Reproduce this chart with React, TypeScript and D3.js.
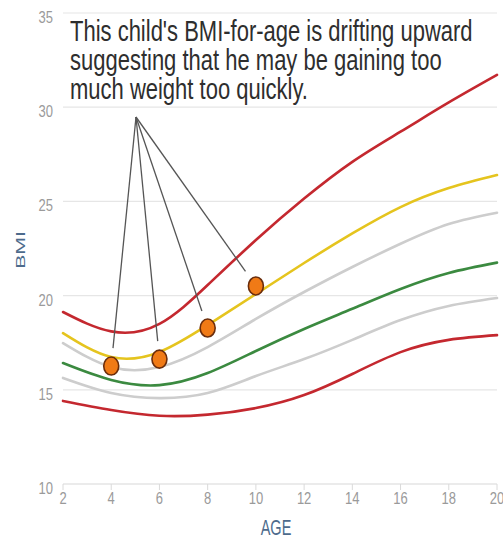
import * as d3 from "d3";

// ages where the percentile curves were read
const ages = [2, 4, 6, 8, 10, 12, 14, 16, 18, 20];

// BMI percentile curves (top to bottom)
const p95 = [19.13, 18.1, 18.5, 20.56, 22.95, 25.15, 27.1, 28.7, 30.25, 31.71];
const p85 = [18.01, 16.74, 17.01, 18.44, 20.08, 21.73, 23.3, 24.7, 25.71, 26.4];
const p75 = [17.48, 16.21, 16.21, 17.27, 18.76, 20.19, 21.52, 22.75, 23.8, 24.4];
const p50 = [16.42, 15.52, 15.25, 15.89, 17.06, 18.23, 19.3, 20.35, 21.2, 21.75];
const p25 = [15.63, 14.83, 14.56, 14.83, 15.73, 16.63, 17.65, 18.7, 19.45, 19.87];
const p5 = [14.41, 13.93, 13.62, 13.68, 14.03, 14.72, 15.84, 17.0, 17.65, 17.9];

// the child's measurements
const childAges = [4, 6, 8, 10];
const childBmi = [16.26, 16.63, 18.28, 20.51];

const yTicks = [10, 15, 20, 25, 30, 35];
const xTicks = [2, 4, 6, 8, 10, 12, 14, 16, 18, 20];

const noteLines = [
  "This child's BMI-for-age is drifting upward",
  "suggesting that he may be gaining too",
  "much weight too quickly.",
];

const RED = "#c4282f";
const curves = [
  { values: p95, color: RED },
  { values: p85, color: "#e5c41e" },
  { values: p75, color: "#cdcdcd" },
  { values: p50, color: "#3b8a40" },
  { values: p25, color: "#cdcdcd" },
  { values: p5, color: RED },
];

export default function App() {
  const width = 503;
  const height = 541;

  const x = d3.scaleLinear().domain([2, 20]).range([63, 497]);
  const y = d3.scaleLinear().domain([10, 35]).range([484, 13]);

  const line = d3
    .line<number>()
    .x((_, i) => x(ages[i]))
    .y((d) => y(d))
    .curve(d3.curveNatural);

  // callout lines meet here
  const hub = { x: 136, y: 117 };

  return (
    <svg
      width={width}
      height={height}
      style={{ position: "absolute", left: 0, top: 0, background: "#fff" }}
      fontFamily="'Liberation Sans', Arial, sans-serif"
    >
      {/* grid */}
      {yTicks.map((t) => (
        <g key={t}>
          <line x1={x(2)} x2={x(20)} y1={y(t)} y2={y(t)} stroke={t === 10 ? "#d8d8d8" : "#e6e6e6"} strokeWidth={1.2} />
          <text
            transform={`translate(53,${y(t) + 10}) scale(1,1.2)`}
            textAnchor="end"
            fontSize={13}
            fill="#9a9a9a"
          >
            {t}
          </text>
        </g>
      ))}
      {xTicks.map((t) => (
        <g key={t}>
          <line x1={x(t)} x2={x(t)} y1={y(10)} y2={y(10) + 6} stroke="#dadada" strokeWidth={1} />
          <text
            transform={`translate(${x(t)},504) scale(1,1.2)`}
            textAnchor="middle"
            fontSize={13}
            fill="#9a9a9a"
          >
            {t}
          </text>
        </g>
      ))}

      {/* axis titles */}
      <text transform="translate(276,535) scale(1,1.5)" textAnchor="middle" fontSize={14.5} fill="#4d6b8c">
        AGE
      </text>
      <text transform="translate(25,250) scale(1,1.7) rotate(-90)" textAnchor="middle" fontSize={12.5} fill="#4d6b8c">
        BMI
      </text>

      {/* percentile curves */}
      {curves.map((c, i) => (
        <path key={i} d={line(c.values) ?? ""} fill="none" stroke={c.color} strokeWidth={2.6} strokeLinecap="round" />
      ))}

      {/* annotation */}
      {noteLines.map((s, i) => (
        <text key={i} transform={`translate(70,${41 + i * 29}) scale(1,1.3)`} fontSize={22} fill="#2e2e2e">
          {s}
        </text>
      ))}

      {/* callout lines */}
      {childAges.map((a, i) => {
        const px = x(a);
        const py = y(childBmi[i]);
        const dx = hub.x - px;
        const dy = hub.y - py;
        const len = Math.hypot(dx, dy);
        const gap = 18;
        return (
          <line
            key={a}
            x1={hub.x}
            y1={hub.y}
            x2={px + (dx / len) * gap}
            y2={py + (dy / len) * gap}
            stroke="#555"
            strokeWidth={1.3}
          />
        );
      })}

      {/* child points */}
      {childAges.map((a, i) => (
        <ellipse key={a} cx={x(a)} cy={y(childBmi[i])} rx={7.5} ry={9} fill="#f07a16" stroke="#6a2d0c" strokeWidth={1.6} />
      ))}
    </svg>
  );
}
